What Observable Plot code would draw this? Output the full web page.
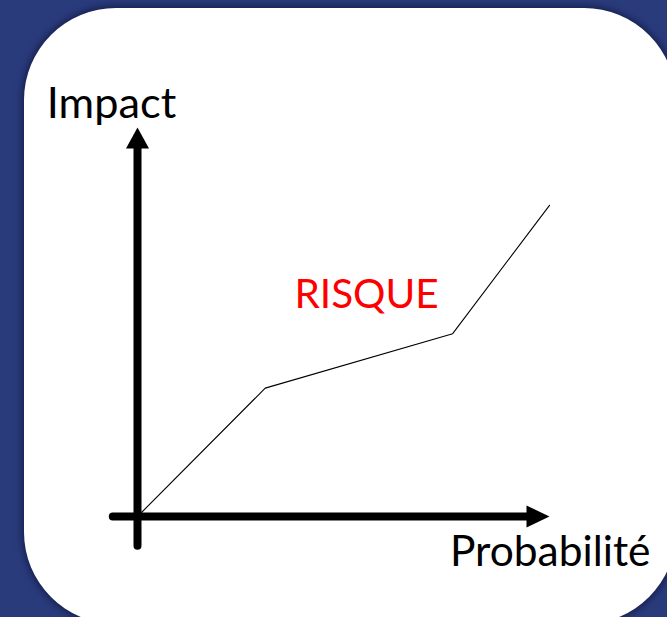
<!DOCTYPE html>
<html>
<head>
<meta charset="utf-8">
<script src="https://cdn.jsdelivr.net/npm/d3@7"></script>
<script src="https://cdn.jsdelivr.net/npm/@observablehq/plot@0.6"></script>
<style>
  html, body { margin: 0; padding: 0; width: 667px; height: 617px; overflow: hidden; background: #2a3b7c; }
  #card { position: absolute; left: 24px; top: 8px; width: 652px; height: 616px; border-radius: 92px; background: #ffffff; box-shadow: 0 0 7px 2px rgba(15, 22, 60, 0.75); }
  #chart { position: absolute; left: 0; top: 0; }
</style>
</head>
<body>
<div id="card"></div>
<div id="chart"></div>
<script>
// Curve of risk: probability (x) vs impact (y), in % of axis length
const probabilite = [0, 31, 76.5, 100];
const impact = [0, 33, 47, 80];

// Axis extents (data units)
const axisStart = [-6, -7.5];   // x-axis left end, y-axis bottom end
const axisEnd = 100;            // arrow tip
const axisLineEnd = 95;         // where the shaft meets the arrowhead

// Labels
const labelX = "Probabilité";
const labelY = "Impact";
const riskLabel = ["RISQUE"];
const riskLabelPos = [{x: 55.6, y: 53.5}];

const curve = probabilite.map((p, i) => ({x: p, y: impact[i]}));

const arrowUp = {draw(ctx) { ctx.moveTo(0, 0); ctx.lineTo(-11.5, 21); ctx.lineTo(11.5, 21); ctx.closePath(); }};
const arrowRight = {draw(ctx) { ctx.moveTo(0, 0); ctx.lineTo(-23, -11); ctx.lineTo(-23, 11); ctx.closePath(); }};

const font = "Lato, 'Open Sans', sans-serif";

const plot = Plot.plot({
  width: 667,
  height: 617,
  margin: 0,
  style: {background: "transparent", overflow: "visible"},
  x: {domain: [0, 100], range: [137, 549], axis: null},
  y: {domain: [0, 100], range: [516, 127], axis: null},
  marks: [
    Plot.line(curve, {x: "x", y: "y", stroke: "black", strokeWidth: 1.1}),
    // axis shafts
    Plot.link([{x1: axisStart[0], x2: axisLineEnd, y1: 0, y2: 0}], {x1: "x1", x2: "x2", y1: "y1", y2: "y2", stroke: "black", strokeWidth: 8, strokeLinecap: "round"}),
    Plot.link([{x1: 0, x2: 0, y1: axisStart[1], y2: axisLineEnd}], {x1: "x1", x2: "x2", y1: "y1", y2: "y2", stroke: "black", strokeWidth: 8, strokeLinecap: "round"}),
    // arrowheads
    Plot.dot([{x: 0, y: axisEnd}], {x: "x", y: "y", symbol: arrowUp, fill: "black", stroke: null}),
    Plot.dot([{x: axisEnd, y: 0}], {x: "x", y: "y", symbol: arrowRight, fill: "black", stroke: null}),
    // axis labels
    Plot.text([labelY], {x: () => 0, y: () => axisEnd, text: d => d, dx: -26, dy: -10, textAnchor: "middle", lineAnchor: "bottom", fontSize: 43.3, fontFamily: font, fill: "black"}),
    Plot.text([labelX], {x: () => axisEnd, y: () => 0, text: d => d, dx: 101, dy: 49, textAnchor: "end", lineAnchor: "bottom", fontSize: 42.5, fontFamily: font, fill: "black"}),
    Plot.text(riskLabel, {x: (d, i) => riskLabelPos[i].x, y: (d, i) => riskLabelPos[i].y, text: d => d, textAnchor: "middle", lineAnchor: "bottom", fontSize: 40.5, fontFamily: font, fill: "#ff0000"})
  ]
});
document.getElementById("chart").appendChild(plot);
</script>
</body>
</html>
